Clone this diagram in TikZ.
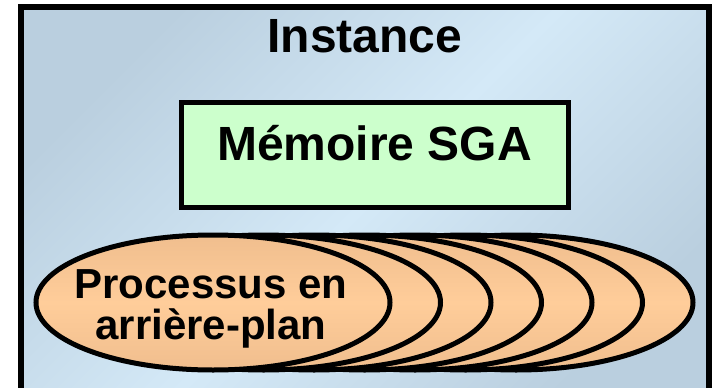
\documentclass[tikz,border=0pt]{standalone}
\usepackage{fontspec}
\setmainfont{Liberation Sans}
\usetikzlibrary{shapes.geometric}
\definecolor{bgdark}{RGB}{186,207,223}
\definecolor{bglight}{RGB}{212,233,247}
\definecolor{sgagreen}{RGB}{204,255,204}
\definecolor{procA}{RGB}{240,190,142}
\definecolor{procB}{RGB}{255,205,154}
\tikzset{
  frame/.style={draw=black,line width=5.5pt},
  procell/.style={ellipse,draw=black,line width=5pt,inner sep=0pt,
    minimum width=354pt,minimum height=135pt,
    top color=procA,bottom color=procA,middle color=procB},
  label/.style={font=\bfseries,text=black,inner sep=0pt},
}
\begin{document}
\begin{tikzpicture}[x=1pt,y=-1pt]
\useasboundingbox (0,0) rectangle (712,388);
\clip (0,0) rectangle (712,388);
\fill[white] (0,0) rectangle (712,388);
% instance frame
\shade[top color=bgdark,bottom color=bgdark,middle color=bglight,shading angle=45]
  (21,6.8) rectangle (709,400);
\draw[frame] (21,6.8) rectangle (709,400);
\node[label,font=\fontsize{48}{50}\bfseries,anchor=base] (inst) at (365,52) {Instance};
% SGA box
\node[draw=black,line width=5pt,fill=sgagreen,minimum width=387pt,minimum height=105pt,inner sep=0pt]
  (sga) at (374.5,154.5) {};
\node[label,font=\fontsize{48}{50}\bfseries,anchor=base] (sgatxt) at (374.5,160) {Mémoire SGA};
% background process ellipses, back to front
\foreach \k in {6,5,...,1}{
  \node[procell] (p\k) at ({213+50.5*\k},302.5) {};
}
\node[procell] (p0) at (213,302.5) {};
\node[label,font=\fontsize{42}{41}\bfseries,align=center,anchor=base] (ptxt) at (211,339) {Processus en\\arrière-plan};
\end{tikzpicture}
\end{document}
